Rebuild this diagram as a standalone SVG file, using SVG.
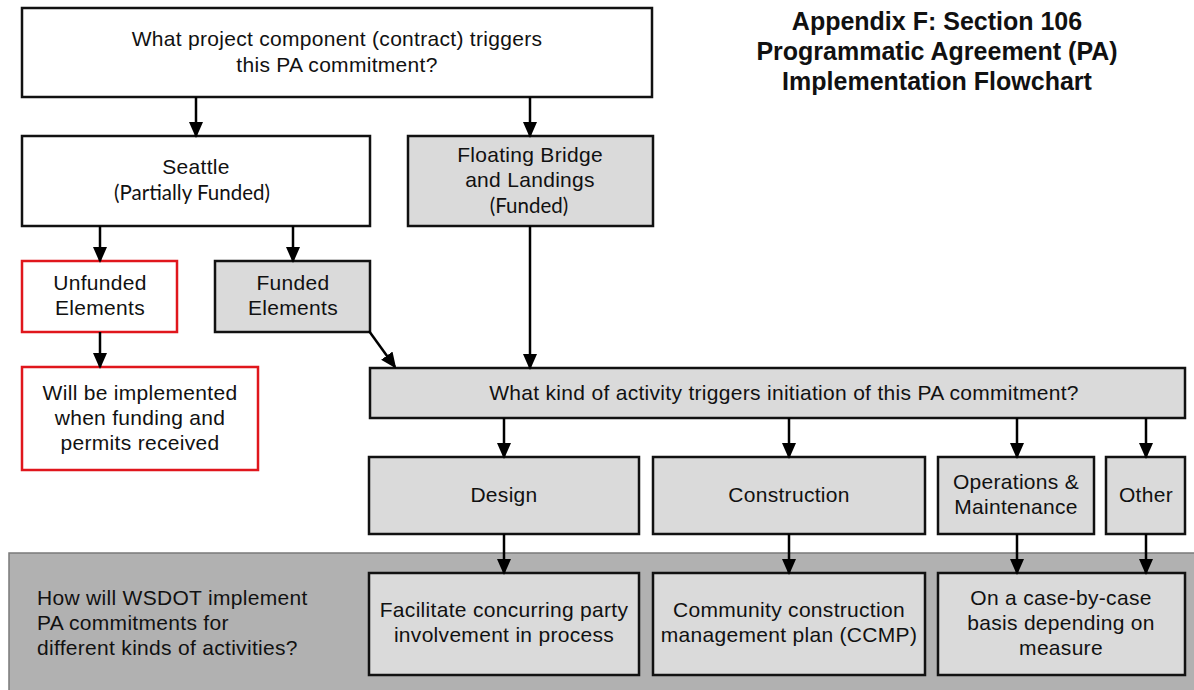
<svg xmlns="http://www.w3.org/2000/svg" width="1194" height="690" viewBox="0 0 1194 690">
<defs>
<marker id="arr" markerUnits="userSpaceOnUse" markerWidth="16" markerHeight="16" refX="14" refY="7" orient="auto" viewBox="0 0 16 14">
<path d="M0,0 L16,7 L0,14 z" fill="#000"/>
</marker>
<style>
.box{stroke:#111;stroke-width:2.5;}
.w{fill:#fff;}
.g{fill:#dadada;}
.red{fill:#fff;stroke:#e0161c;stroke-width:2.5;}
text{font-family:"Liberation Sans",Arial,sans-serif;font-size:21px;letter-spacing:0.3px;fill:#111;text-anchor:middle;}
.cal{font-family:Lato,"Open Sans",sans-serif;font-size:20.5px;letter-spacing:0;}
.title{font-weight:bold;font-size:25px;letter-spacing:0;}
.left{text-anchor:start;}
.con line{stroke:#000;stroke-width:2.5;marker-end:url(#arr);}
</style>
</defs>
<rect width="1194" height="690" fill="#fff"/>
<g id="band">
<rect x="9" y="553" width="1192" height="142" fill="#b1b1b1" stroke="#7a7a7a" stroke-width="1.5"/>
<text class="left" x="37" y="605">How will WSDOT implement</text>
<text class="left" x="37" y="630">PA commitments for</text>
<text class="left" x="37" y="655">different kinds of activities?</text>
</g>
<g id="title">
<text class="title" x="937" y="30">Appendix F: Section 106</text>
<text class="title" x="937" y="60">Programmatic Agreement (PA)</text>
<text class="title" x="937" y="90">Implementation Flowchart</text>
</g>
<g id="n-top">
<rect class="box w" x="22" y="8" width="630" height="89"/>
<text x="337" y="46">What project component (contract) triggers</text>
<text x="337" y="72">this PA commitment?</text>
</g>
<g id="n-seattle">
<rect class="box w" x="22" y="136" width="348" height="90"/>
<text x="196" y="174">Seattle</text>
<text class="cal" x="192" y="200">(Partially Funded)</text>
</g>
<g id="n-floating">
<rect class="box g" x="408" y="136" width="245" height="90"/>
<text x="530" y="162">Floating Bridge</text>
<text x="530" y="187">and Landings</text>
<text class="cal" x="529" y="213">(Funded)</text>
</g>
<g id="n-unfunded">
<rect class="red" x="22" y="261" width="155" height="71"/>
<text x="100" y="290">Unfunded</text>
<text x="100" y="315">Elements</text>
</g>
<g id="n-funded">
<rect class="box g" x="215" y="261" width="155" height="71"/>
<text x="293" y="290">Funded</text>
<text x="293" y="315">Elements</text>
</g>
<g id="n-will">
<rect class="red" x="22" y="367" width="236" height="103"/>
<text x="140" y="400">Will be implemented</text>
<text x="140" y="425">when funding and</text>
<text x="140" y="450">permits received</text>
</g>
<g id="n-activity">
<rect class="box g" x="370" y="368" width="815" height="50"/>
<text x="784" y="400">What kind of activity triggers initiation of this PA commitment?</text>
</g>
<g id="n-design">
<rect class="box g" x="369" y="457" width="270" height="77"/>
<text x="504" y="502">Design</text>
</g>
<g id="n-construction">
<rect class="box g" x="653" y="457" width="272" height="77"/>
<text x="789" y="502">Construction</text>
</g>
<g id="n-om">
<rect class="box g" x="938" y="457" width="156" height="77"/>
<text x="1016" y="489">Operations &amp;</text>
<text x="1016" y="514">Maintenance</text>
</g>
<g id="n-other">
<rect class="box g" x="1106" y="457" width="79" height="77"/>
<text x="1146" y="502">Other</text>
</g>
<g id="n-facilitate">
<rect class="box g" x="369" y="573" width="270" height="102"/>
<text x="504" y="617">Facilitate concurring party</text>
<text x="504" y="642">involvement in process</text>
</g>
<g id="n-ccmp">
<rect class="box g" x="653" y="573" width="272" height="102"/>
<text x="789" y="617">Community construction</text>
<text x="789" y="642">management plan (CCMP)</text>
</g>
<g id="n-case">
<rect class="box g" x="938" y="573" width="247" height="102"/>
<text x="1061" y="605">On a case-by-case</text>
<text x="1061" y="630">basis depending on</text>
<text x="1061" y="655">measure</text>
</g>
<g id="connectors" class="con">
<line x1="196" y1="97" x2="196" y2="136"/>
<line x1="530" y1="97" x2="530" y2="136"/>
<line x1="100" y1="226" x2="100" y2="261"/>
<line x1="293" y1="226" x2="293" y2="261"/>
<line x1="100" y1="332" x2="100" y2="367"/>
<line x1="369" y1="331" x2="395" y2="367"/>
<line x1="530" y1="226" x2="530" y2="368"/>
<line x1="504" y1="418" x2="504" y2="457"/>
<line x1="789" y1="418" x2="789" y2="457"/>
<line x1="1017" y1="418" x2="1017" y2="457"/>
<line x1="1146" y1="418" x2="1146" y2="457"/>
<line x1="504" y1="534" x2="504" y2="573"/>
<line x1="789" y1="534" x2="789" y2="573"/>
<line x1="1017" y1="534" x2="1017" y2="573"/>
<line x1="1146" y1="534" x2="1146" y2="573"/>
</g>
</svg>
